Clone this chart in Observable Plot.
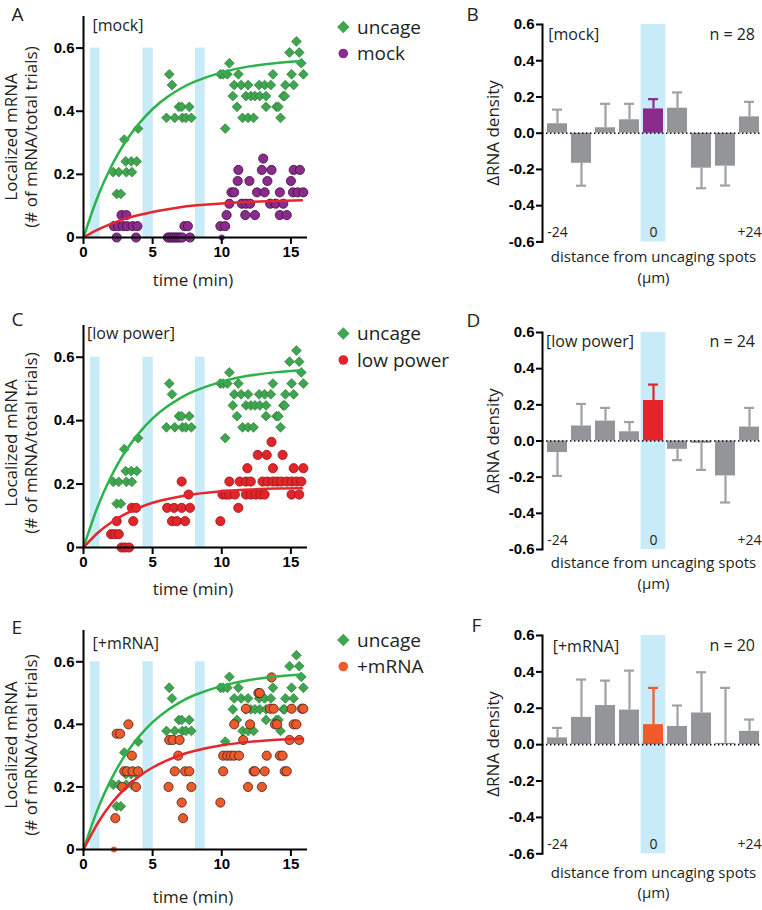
<!DOCTYPE html>
<html><head><meta charset="utf-8">
<script src="https://cdn.jsdelivr.net/npm/d3@7"></script>
<script src="https://cdn.jsdelivr.net/npm/@observablehq/plot@0.6"></script>
<style>
body{margin:0;width:762px;height:910px;overflow:hidden;background:#fff;}
#fig{position:relative;width:762px;height:910px;overflow:hidden;}
#fig > svg{position:absolute;overflow:visible;}
</style></head>
<body><div id="fig"></div>
<script>
// ---------- data ----------
const bandStart = [0.5, 4.3, 8.1];
const bandEnd = [1.2, 5.05, 8.8];
const timeTicks = [0, 5, 10, 15];
const fracTicks = [0, 0.2, 0.4, 0.6];
const densityTicks = [-0.6, -0.4, -0.2, 0, 0.2, 0.4, 0.6];

const fitTime = [0, 1, 2, 3, 4, 5, 6, 7, 8, 10, 12, 14, 15.8];
const fitUncage = [0, 0.126, 0.224, 0.301, 0.36, 0.407, 0.443, 0.471, 0.493, 0.523, 0.542, 0.553, 0.559];
const fitMock = [0, 0.024, 0.043, 0.059, 0.071, 0.081, 0.089, 0.096, 0.101, 0.108, 0.113, 0.116, 0.118];
const fitLowPower = [0, 0.045, 0.079, 0.105, 0.125, 0.141, 0.152, 0.161, 0.168, 0.177, 0.183, 0.186, 0.187];
const fitPlusMRNA = [0, 0.082, 0.146, 0.195, 0.233, 0.262, 0.284, 0.302, 0.315, 0.333, 0.344, 0.351, 0.354];

const uncage = [
 [2.15,.207],[2.55,.207],[3.1,.207],[3.5,.207],
 [3.05,.241],[3.45,.241],[3.85,.241],
 [2.4,.138],[2.7,.138],[2.95,.31],[3.95,.345],
 [6.2,.517],[6.4,.483],[6.9,.414],[7.1,.414],[7.65,.414],
 [6.0,.379],[6.6,.379],[7.15,.379],[7.4,.379],[7.8,.379],
 [15.4,.621],[14.9,.586],[15.6,.586],[10.55,.552],[15.75,.552],
 [9.9,.517],[10.1,.517],[10.4,.517],[11.2,.517],[13.7,.517],[15.05,.517],[15.9,.517],
 [10.9,.483],[11.4,.483],[11.9,.483],[12.7,.483],[13.1,.483],[13.55,.483],[14.6,.483],[15.2,.483],
 [10.8,.448],[11.75,.448],[12.1,.448],[12.4,.448],[12.75,.448],[13.2,.448],[14.45,.448],[14.55,.448],
 [11.1,.414],[13.2,.414],[13.95,.414],[14.1,.414],
 [11.5,.379],[11.9,.379],[12.3,.379],[14.25,.379],
 [10.25,.345]
];
const mock = [
 [2.2,.036],[2.5,.036],[2.85,.036],[3.15,.036],[3.55,.036],[3.9,.036],
 [2.75,.071],[3.1,.071],[2.4,0],[3.8,0],
 [6.1,0],[6.25,0],[6.4,0],[6.55,0],[6.7,0],[6.85,0],[7.0,0],[7.15,0],[7.7,0],
 [7.3,.036],[7.55,.036],[9.9,.036],[10.25,.036],
 [10.35,.071],[11.7,.071],[12.4,.071],[14.2,.071],[14.7,.071],
 [10.55,.107],[11.45,.107],[11.75,.107],[12.05,.107],[13.5,.107],[13.9,.107],[14.45,.107],
 [10.7,.143],[10.9,.143],[12.55,.143],[13.1,.143],[14.2,.143],[15.15,.143],[15.5,.143],[15.9,.143],
 [11.15,.179],[12.0,.179],[13.3,.179],[15.0,.179],
 [11.2,.214],[12.9,.214],[13.6,.214],[15.2,.214],[15.65,.214],
 [13.0,.25]
];
const mockSmall = [[10.0, 0]];
const lowPower = [
 [2.0,.042],[2.25,.042],[2.55,.042],[2.75,0],[3.0,0],[3.3,0],
 [2.4,.083],[3.6,.083],[3.5,.125],[3.8,.125],
 [6.05,.125],[6.55,.125],[7.1,.125],[7.7,.125],[6.4,.083],[6.75,.083],[7.35,.083],
 [7.1,.208],[7.6,.167],[9.9,.083],[11.2,.125],
 [10.05,.167],[10.3,.167],[10.55,.167],[10.95,.167],[11.75,.167],[12.1,.167],[12.45,.167],[12.8,.167],[13.1,.167],[15.05,.167],[15.6,.167],
 [10.55,.208],[11.3,.208],[11.75,.208],[12.1,.208],[12.95,.208],[13.3,.208],[13.7,.208],[14.0,.208],[14.3,.208],[14.7,.208],[15.05,.208],[15.4,.208],[15.75,.208],
 [11.85,.25],[13.7,.25],[15.2,.25],[15.9,.25],
 [12.6,.292],[13.25,.292],[14.4,.292],[13.6,.333]
];
const plusMRNA = [
 [2.3,.1],[2.4,.37],[2.65,.37],[3.25,.4],[3.5,.3],
 [2.95,.25],[3.15,.25],[3.55,.25],[3.95,.25],[2.8,.2],[3.8,.2],
 [6.2,.35],[6.45,.35],[6.95,.35],[6.85,.3],[6.6,.25],[7.35,.25],[7.65,.25],
 [6.15,.2],[7.8,.2],[7.1,.15],[7.2,.1],[9.9,.15],
 [10.1,.3],[10.4,.3],[10.65,.3],[10.9,.3],[11.25,.3],[13.25,.3],[14.2,.3],[14.4,.3],
 [10.1,.25],[12.3,.25],[12.4,.25],[13.1,.25],[14.55,.25],[14.7,.25],
 [10.9,.4],[12.05,.4],[13.85,.4],[14.0,.4],[15.2,.4],[15.4,.4],
 [11.55,.35],[14.9,.35],[15.6,.35],
 [11.75,.45],[13.5,.45],[13.75,.45],[15.05,.45],[15.8,.45],[15.9,.45],
 [11.9,.2],[12.9,.2],[12.65,.5],[12.75,.5],[13.6,.55]
];
const plusSmall = [[2.2, 0]];

const distanceBins = [-24, -18, -12, -6, 0, 6, 12, 18, 24];
const binLabels = ["-24", "0", "+24"];
const binLabelAt = [-24, 0, 24];
const mockDensity = [0.052, -0.166, 0.03, 0.074, 0.134, 0.138, -0.193, -0.182, 0.09];
const mockSEM = [0.078, 0.124, 0.132, 0.088, 0.054, 0.087, 0.111, 0.107, 0.083];
const lowPowerDensity = [-0.064, 0.083, 0.11, 0.051, 0.224, -0.046, -0.013, -0.193, 0.077];
const lowPowerSEM = [0.129, 0.122, 0.073, 0.054, 0.088, 0.06, 0.147, 0.147, 0.106];
const plusDensity = [0.037, 0.15, 0.215, 0.19, 0.11, 0.1, 0.174, 0.007, 0.073];
const plusSEM = [0.055, 0.208, 0.137, 0.217, 0.202, 0.115, 0.224, 0.305, 0.065];

// ---------- styles ----------
const BLUE = "#c8ebf9";
const GREEN_FILL = "#3fa54f", GREEN_STROKE = "#2a7a39", GREEN_LINE = "#2db34b", RED_LINE = "#e6262c";
const GRAY = "#939598", GRAY_ERR = "#9fa1a4", INK = "#231f20";
const TICK_FONT = {fontFamily: "Liberation Sans, Arial, sans-serif", fontSize: "15px", fontWeight: "bold"};

const fig = document.getElementById("fig");
function place(svg, left, top) {
  svg.style.left = left + "px"; svg.style.top = top + "px";
  fig.appendChild(svg);
}

function scatter({pts, small, fill, stroke, fit, plotTop, plotBottom}) {
  const mt = 10, mb = 36;
  const svg = Plot.plot({
    width: 330, height: (plotBottom - plotTop) + mt + mb,
    marginLeft: 83, marginRight: 23, marginTop: mt, marginBottom: mb,
    style: {...TICK_FONT, color: "#000", background: "transparent"},
    x: {domain: [0, 16.2]},
    y: {domain: [0, 0.7]},
    marks: [
      Plot.rect(bandStart, {x1: d => d, x2: (d, i) => bandEnd[i], y1: 0, y2: 0.6, fill: BLUE}),
      Plot.dot(uncage, {x: d => d[0], y: d => d[1], symbol: "diamond2", r: 4.4, fill: GREEN_FILL, stroke: GREEN_STROKE, strokeWidth: 0.7}),
      Plot.dot(pts, {x: d => d[0], y: d => d[1], r: 4.6, fill, stroke, strokeWidth: 0.8}),
      Plot.dot(small, {x: d => d[0], y: d => d[1], r: 3, fill}),
      Plot.line(fitTime, {x: d => d, y: (d, i) => fitUncage[i], curve: "natural", stroke: GREEN_LINE, strokeWidth: 2.5}),
      Plot.line(fitTime, {x: d => d, y: (d, i) => fit[i], curve: "natural", stroke: RED_LINE, strokeWidth: 2.5}),
      Plot.ruleY([0], {x1: 0, x2: 16.2, stroke: "#000", strokeWidth: 2}),
      Plot.ruleX([0], {y1: 0, y2: 0.7, stroke: "#000", strokeWidth: 2}),
      Plot.axisX({ticks: timeTicks, tickSize: 7, tickPadding: 2, label: null, strokeWidth: 2, tickFormat: d => String(d)}),
      Plot.axisY({ticks: fracTicks, tickSize: 7, tickPadding: 2, label: null, strokeWidth: 2, tickFormat: d => d === 0 ? "0" : d.toFixed(1)})
    ]
  });
  place(svg, 0, plotTop - mt);
}

function bars({density, sem, color, plotTop, plotBottom}) {
  const rows = distanceBins.map((b, i) => ({bin: b, v: density[i], e: density[i] + (density[i] < 0 ? -sem[i] : sem[i])}));
  const mt = 10, mb = 10;
  const svg = Plot.plot({
    width: 324, height: (plotBottom - plotTop) + mt + mb,
    marginLeft: 102, marginRight: 0, marginTop: mt, marginBottom: mb,
    style: {...TICK_FONT, color: "#000", background: "transparent"},
    x: {type: "band", domain: distanceBins, paddingInner: 0.186, paddingOuter: 0.18, axis: null},
    y: {domain: [-0.6, 0.6]},
    marks: [
      Plot.barY([0], {x: d => d, y1: -0.6, y2: 0.6, fill: BLUE, insetLeft: -2.3, insetRight: -2.3}),
      Plot.ruleX(rows, {x: "bin", y1: "v", y2: "e", stroke: d => d.bin === 0 ? color : GRAY_ERR, strokeWidth: 2.2}),
      Plot.tickY(rows, {x: "bin", y: "e", stroke: d => d.bin === 0 ? color : GRAY_ERR, strokeWidth: 2.2, insetLeft: 5, insetRight: 5}),
      Plot.barY(rows, {x: "bin", y: "v", fill: d => d.bin === 0 ? color : GRAY}),
      Plot.ruleY([0], {stroke: "#000", strokeWidth: 1.6, strokeDasharray: "1.4,2.6"}),
      Plot.text(binLabelAt, {x: d => d, text: (d, i) => binLabels[i], frameAnchor: "bottom", lineAnchor: "bottom", dy: -5,
        fontFamily: "Open Sans", fontWeight: "normal", fontSize: 14, fill: INK}),
      Plot.axisY({ticks: densityTicks, tickSize: 6, tickPadding: 2, label: null, strokeWidth: 2, tickFormat: d => d.toFixed(1)}),
      Plot.frame({anchor: "left", stroke: "#000", strokeWidth: 2})
    ]
  });
  place(svg, 440, plotTop - mt);
}

scatter({pts: mock, small: mockSmall, fill: "#8a2b8d", stroke: "#3d1240", fit: fitMock, plotTop: 16, plotBottom: 237});
scatter({pts: lowPower, small: [], fill: "#e0252b", stroke: "#9a1518", fit: fitLowPower, plotTop: 325, plotBottom: 547});
scatter({pts: plusMRNA, small: plusSmall, fill: "#ef5a2a", stroke: "#3b2420", fit: fitPlusMRNA, plotTop: 630, plotBottom: 849});

bars({density: mockDensity, sem: mockSEM, color: "#8b2a8c", plotTop: 24.3, plotBottom: 241.7});
bars({density: lowPowerDensity, sem: lowPowerSEM, color: "#e4232b", plotTop: 332.3, plotBottom: 549.3});
bars({density: plusDensity, sem: plusSEM, color: "#f15a2b", plotTop: 635, plotBottom: 853.3});

// ---------- annotation overlay ----------
const ov = d3.select(fig).append("svg").attr("width", 762).attr("height", 910)
  .style("left", "0px").style("top", "0px").style("pointer-events", "none")
  .attr("font-family", "Open Sans, sans-serif").attr("fill", INK);

function txt(x, y, s, size, anchor = "start", rotate = false) {
  const t = ov.append("text").attr("font-size", size).attr("text-anchor", anchor).text(s);
  if (rotate) t.attr("transform", `translate(${x},${y}) rotate(-90)`);
  else t.attr("x", x).attr("y", y);
  return t;
}

// panel letters
[["A", 11.5, 21], ["B", 466.5, 21], ["C", 11.5, 326], ["D", 466.5, 327], ["E", 11.5, 634], ["F", 471.5, 632]]
  .forEach(([s, x, y]) => txt(x, y, s, 19));

// left panels: titles, axis titles, legend
const leftRows = [
  {tag: "[mock]", tagY: 31, tagX: 92.5, yc: 137, xb: 286, leg: "mock", legY: 27, color: "#8a2b8d"},
  {tag: "[low power]", tagY: 338.5, tagX: 87, yc: 443, xb: 595, leg: "low power", legY: 333.5, color: "#e0252b"},
  {tag: "[+mRNA]", tagY: 648.5, tagX: 92.5, yc: 745, xb: 903, leg: "+mRNA", legY: 640, color: "#ef5a2a"}
];
leftRows.forEach(r => {
  txt(r.tagX, r.tagY, r.tag, 16);
  txt(16.5, r.yc, "Localized mRNA", 17, "middle", true);
  txt(36.5, r.yc, "(# of mRNA/total trials)", 17, "middle", true);
  txt(193, r.xb, "time (min)", 17, "middle");
  ov.append("path").attr("d", d3.symbol(d3.symbolDiamond2, 100)()).attr("transform", `translate(343.3,${r.legY})`)
    .attr("fill", GREEN_FILL);
  txt(357, r.legY + 6.5, "uncage", 19);
  ov.append("circle").attr("cx", 343.3).attr("cy", r.legY + 26.5).attr("r", 4.8).attr("fill", r.color);
  txt(357, r.legY + 33, r.leg, 19);
});

// right panels
const rightRows = [
  {tag: "[mock]", tagX: 548.3, tagY: 40, n: "n = 28", nY: 40, yc: 133, xb: 261.5, mb: 282.5},
  {tag: "[low power]", tagX: 546, tagY: 346.5, n: "n = 24", nY: 346.5, yc: 441, xb: 568, mb: 589},
  {tag: "[+mRNA]", tagX: 552.7, tagY: 651.5, n: "n = 20", nY: 650.5, yc: 744, xb: 878, mb: 898}
];
rightRows.forEach(r => {
  txt(r.tagX, r.tagY, r.tag, 16);
  txt(755, r.nY, r.n, 16, "end");
  txt(499, r.yc, "ΔRNA density", 17, "middle", true);
  txt(653.5, r.xb, "distance from uncaging spots", 15, "middle");
  txt(653.5, r.mb, "(μm)", 15, "middle");
});
</script>
</body></html>
